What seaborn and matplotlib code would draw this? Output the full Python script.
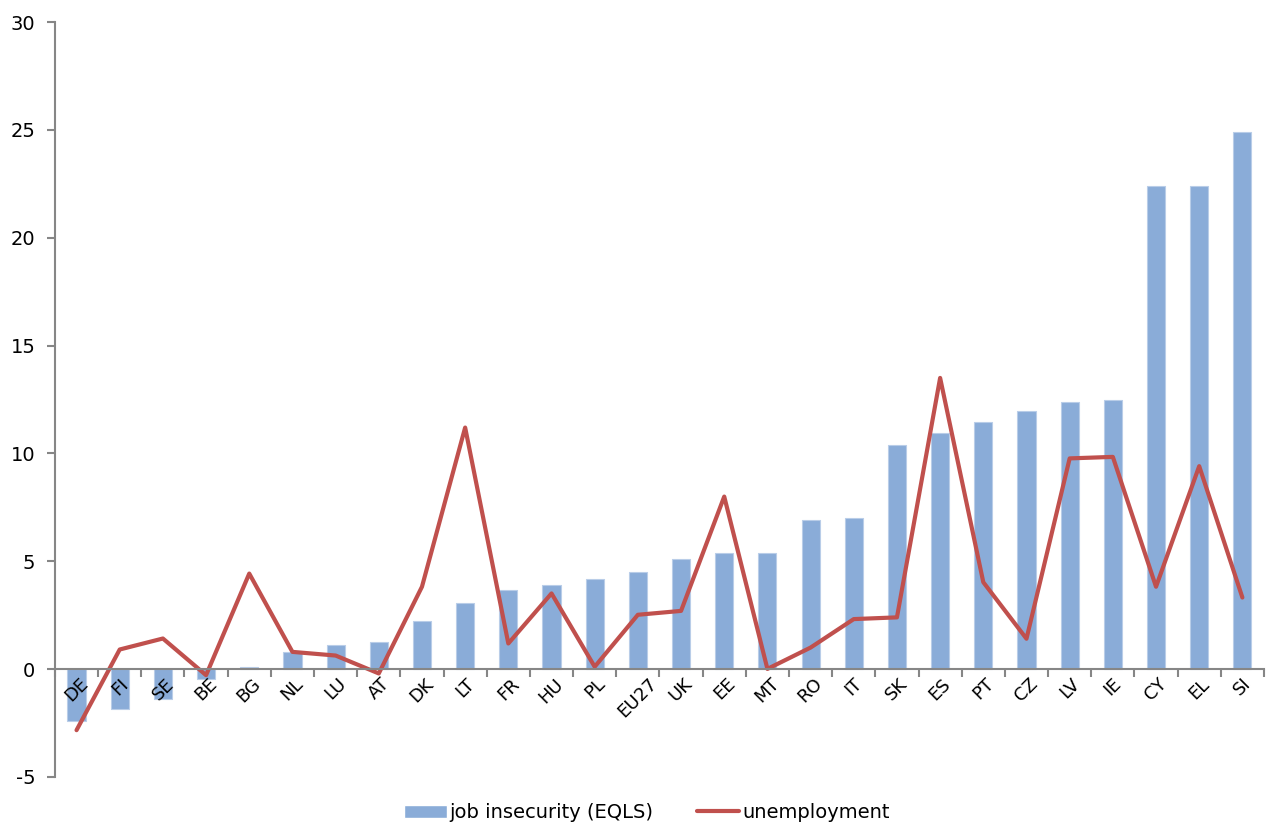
import matplotlib
matplotlib.use("Agg")
import matplotlib.pyplot as plt
import seaborn as sns
import numpy as np
import pandas as pd
from matplotlib.patches import Patch
from matplotlib.lines import Line2D

countries = ["DE", "FI", "SE", "BE", "BG", "NL", "LU", "AT", "DK", "LT",
             "FR", "HU", "PL", "EU27", "UK", "EE", "MT", "RO", "IT", "SK",
             "ES", "PT", "CZ", "LV", "IE", "CY", "EL", "SI"]
job_insecurity = [-2.4, -1.85, -1.4, -0.45, 0.1, 0.8, 1.1, 1.25, 2.24, 3.07,
                  3.69, 3.9, 4.19, 4.51, 5.1, 5.38, 5.38, 6.9, 7.0, 10.38,
                  10.93, 11.44, 11.98, 12.37, 12.47, 22.4, 22.4, 24.9]
unemployment = [-2.83, 0.91, 1.42, -0.28, 4.43, 0.8, 0.63, -0.2, 3.82, 11.2,
                1.19, 3.51, 0.11, 2.52, 2.7, 8.0, 0.01, 1.0, 2.32, 2.4,
                13.5, 4.03, 1.41, 9.77, 9.84, 3.82, 9.41, 3.32]
y_ticks = [-5, 0, 5, 10, 15, 20, 25, 30]


def main():
    df = pd.DataFrame({"country": countries,
                       "job": job_insecurity,
                       "unemp": unemployment})
    bar_color = "#8AACD8"
    line_color = "#C0504D"
    axis_color = "#868686"

    sns.set_style("white")
    plt.rcParams["font.family"] = ["DejaVu Sans"]
    plt.rcParams["text.color"] = "black"

    fig = plt.figure(figsize=(12.66, 8.25), dpi=100)
    ax = fig.add_axes([0.0434, 0.0582, 0.955, 0.9151])

    sns.barplot(data=df, x="country", y="job", color=bar_color,
                width=0.42, saturation=1, edgecolor="#B9CDE8",
                linewidth=0.8, ax=ax)
    sns.lineplot(x=np.arange(len(countries)), y=df["unemp"],
                 color=line_color, linewidth=3, ax=ax)

    ax.set_axisbelow(False)
    ax.set_xlim(-0.5, len(countries) - 0.5)
    ax.set_ylim(-5, 30)
    ax.set_xlabel("")
    ax.set_ylabel("")

    ax.tick_params(axis="x", which="major", length=0, pad=4,
                   labelrotation=45, labelsize=13, labelcolor="black")
    ax.tick_params(axis="x", which="minor", bottom=True, length=6,
                   width=1.5, color=axis_color, direction="out")
    ax.tick_params(axis="y", left=True, length=6, width=1.5,
                   color=axis_color, direction="out", pad=8, labelsize=14,
                   labelcolor="black")

    ax.set_yticks(y_ticks)
    ax.set_yticklabels([str(t) for t in y_ticks])
    ax.set_xticks(np.arange(len(countries)))
    ax.set_xticks(np.arange(len(countries) + 1) - 0.5, minor=True)
    ax.set_xticklabels(countries, rotation=45, ha="right", va="center",
                       rotation_mode="anchor")
    for lab in ax.get_xticklabels():
        lab.set_rotation(45)
        lab.set_horizontalalignment("right")
        lab.set_verticalalignment("center")
        lab.set_rotation_mode("anchor")

    for side in ["top", "right"]:
        ax.spines[side].set_visible(False)
    ax.spines["left"].set_color(axis_color)
    ax.spines["left"].set_linewidth(1.5)
    ax.spines["bottom"].set_position(("data", 0))
    ax.spines["bottom"].set_color(axis_color)
    ax.spines["bottom"].set_linewidth(1.5)

    handles = [Patch(facecolor=bar_color, label="job insecurity (EQLS)"),
               Line2D([0], [0], color=line_color, linewidth=3,
                      label="unemployment")]
    fig.legend(handles=handles, loc="center", bbox_to_anchor=(0.511, 0.015),
               ncol=2, frameon=False, fontsize=14, handlelength=2.2,
               handletextpad=0.15, columnspacing=2.2)

    fig.savefig("out.png", dpi=100)


if __name__ == "__main__":
    main()
